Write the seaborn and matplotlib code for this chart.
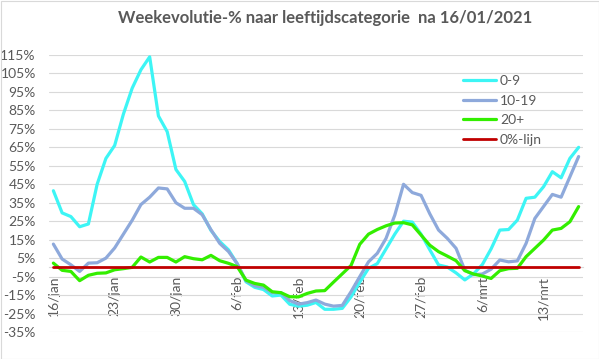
import matplotlib
matplotlib.use("Agg")
import pandas as pd
import matplotlib.pyplot as plt
import matplotlib.patches as patches
import seaborn as sns

# ---- data ----
dates = pd.date_range("2021-01-16", "2021-03-17", freq="D")
tick_labels = ["16/jan", "23/jan", "30/jan", "6/feb", "13/feb",
               "20/feb", "27/feb", "6/mrt", "13/mrt"]
series_names = ["0-9", "10-19", "20+", "0%-lijn"]

age_0_9 = [41.5, 29.5, 27.5, 22, 23.5, 45, 59, 66, 83, 97,
           107, 114, 82, 73.5, 53, 46.5, 34, 29, 20, 14,
           9.5, 2, -7.8, -10.8, -12, -15.5, -15, -20, -21, -20.5,
           -19, -22.7, -22.7, -22.2, -16, -8, -0.5, 2, 10, 18,
           25, 24.5, 18, 9.5, 1.3, 0.2, -3, -6.8, -3.5, 1.5,
           10, 20.2, 20.5, 25.6, 37.4, 38, 43.7, 51.8, 48.5, 59,
           65]
age_10_19 = [12.6, 4.5, 1.4, -2.2, 2.3, 2.5, 5, 10.5, 18, 25.5,
             34, 38, 43, 42.5, 35, 32, 32, 28.5, 20.4, 13,
             8.6, 2, -7.2, -10, -10.8, -13.7, -13.7, -18, -19.9, -19.1,
             -17.7, -19.9, -21, -20.6, -13.2, -5, 3, 7.6, 15.7, 28.3,
             45, 40.5, 39, 29, 20.2, 15.7, 10.3, -1.5, -4, -3.6,
             -1, 4, 3, 3.5, 13, 26.5, 33, 39.5, 38, 49,
             60]
age_20_plus = [2.3, -1.6, -2.2, -7.2, -4.3, -3.2, -3, -1.3, -0.7, 0,
               5.6, 2.9, 5.4, 5.4, 2.9, 5.8, 4.7, 4.1, 6.5, 3.6,
               2.2, 0.4, -6.9, -8.7, -9.6, -13.2, -13.7, -15.9, -16, -14.1,
               -12.8, -12.6, -8, -3.5, 1, 12.5, 18, 20.5, 22.5, 24,
               24.2, 23, 17.5, 12, 8.5, 6.1, 3.6, -1.8, -3.6, -4.7,
               -6, -1.8, -0.7, -0.5, 5.8, 10.3, 14.8, 20.2, 21.1, 24.7,
               32.9]
zero_line = [0] * len(dates)

colors = ["#3DF5F5", "#8EA9DB", "#33EE00", "#C00000"]
GREY = "#595959"
GRID = "#D9D9D9"

# ---- long form ----
df = pd.DataFrame({"datum": dates, "0-9": age_0_9, "10-19": age_10_19,
                   "20+": age_20_plus, "0%-lijn": zero_line})
df = df.melt(id_vars="datum", var_name="groep", value_name="pct")

sns.set_style("white")
plt.rcParams["font.family"] = ["Lato", "DejaVu Sans"]

fig = plt.figure(figsize=(5.99, 3.59), dpi=100)
ax = fig.add_axes([49 / 599, 1 - 332 / 359, 534 / 599, 277 / 359])

sns.lineplot(data=df, x="datum", y="pct", hue="groep", hue_order=series_names,
             palette=colors, linewidth=2.3, legend=False, ax=ax)
for ln in ax.get_lines():
    ln.set_zorder(3)
ax.get_lines()[3].set_linewidth(2.0)

# axes
ax.set_ylim(-35, 115)
ax.set_xlim(dates[0] - pd.Timedelta(hours=12), dates[-1] + pd.Timedelta(hours=12))
ax.set_yticks(range(-35, 116, 10))
ax.set_yticklabels([f"{v}%" for v in range(-35, 116, 10)])
ax.set_xticks(dates[::7])
ax.set_xticklabels(tick_labels)
ax.set_xticks(dates[::7] - pd.Timedelta(hours=12), minor=True)
ax.set_xlabel("")
ax.set_ylabel("")

ax.yaxis.grid(True, color=GRID, linewidth=0.8)
ax.xaxis.grid(False)
ax.set_axisbelow(True)

for side in ["top", "right", "left"]:
    ax.spines[side].set_visible(False)
ax.spines["bottom"].set_position(("data", 0))
ax.spines["bottom"].set_color(GRID)
ax.spines["bottom"].set_zorder(1)

ax.tick_params(axis="y", length=0, pad=9.5, labelsize=10, labelcolor=GREY)
ax.tick_params(axis="x", which="major", length=0, pad=6, labelsize=10,
               labelcolor=GREY, labelrotation=90)
ax.tick_params(axis="x", which="minor", length=4, width=0.8, color=GRID)

# legend
leg = ax.legend(ax.get_lines()[:4], series_names, loc="upper left",
                bbox_to_anchor=(463 / 599, 1 - 75 / 359), bbox_transform=fig.transFigure,
                frameon=False, fontsize=10, handlelength=2.4, handletextpad=0.25,
                labelspacing=0.55, borderpad=0, borderaxespad=0)
for t in leg.get_texts():
    t.set_color(GREY)

# title
fig.text(325 / 599, 1 - 18 / 359, "Weekevolutie-% naar leeftijdscategorie  na 16/01/2021",
         ha="center", va="center", fontsize=12, fontweight="bold", color=GREY)

# chart border
fig.patches.append(patches.Rectangle((0.5 / 599, 0.5 / 359), 598 / 599, 358 / 359,
                                     transform=fig.transFigure, fill=False,
                                     edgecolor=GRID, linewidth=0.8))

fig.savefig("out.png", dpi=100)
